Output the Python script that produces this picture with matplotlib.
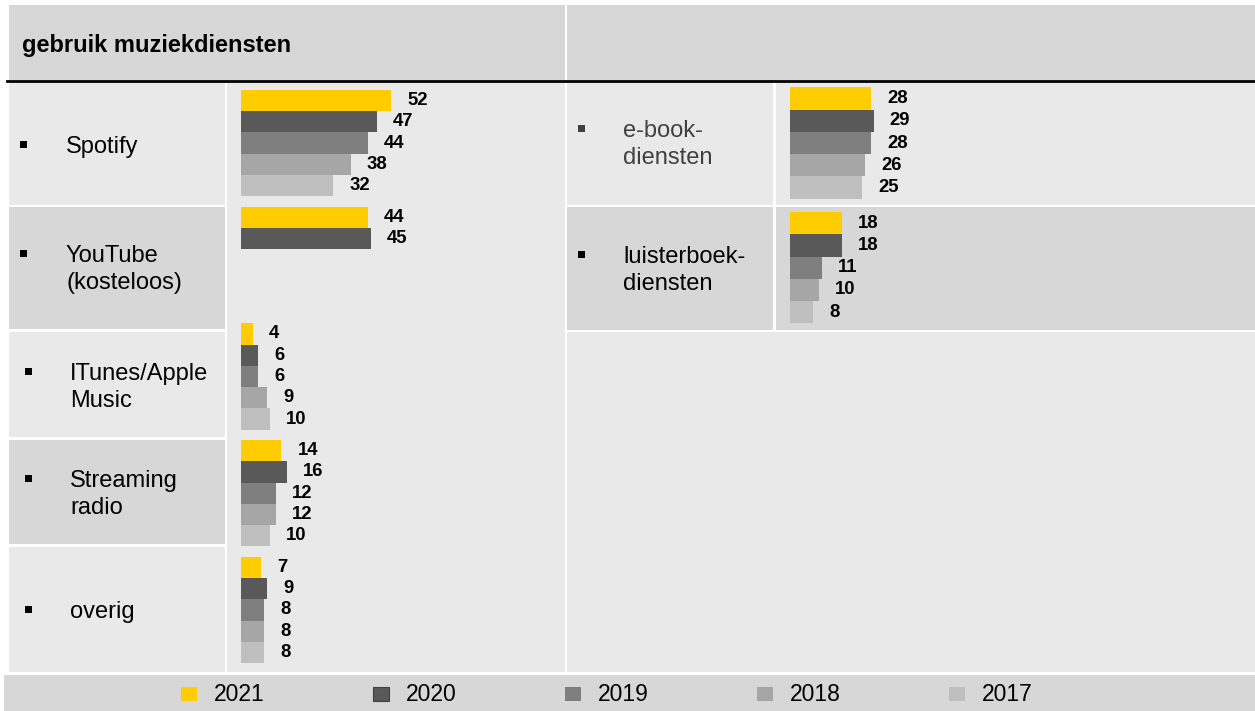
import matplotlib
matplotlib.use("Agg")
import matplotlib.pyplot as plt
from matplotlib.patches import Rectangle

plt.rcParams['font.family'] = ['Liberation Sans', 'DejaVu Sans']

# --- data ---
years = ['2021', '2020', '2019', '2018', '2017']
colors = ['#ffcc00', '#595959', '#7f7f7f', '#a6a6a6', '#bfbfbf']

music_services = ['Spotify', 'YouTube\n(kosteloos)', 'ITunes/Apple\nMusic', 'Streaming\nradio', 'overig']
music_values = [
    [52, 47, 44, 38, 32],
    [44, 45, None, None, None],
    [4, 6, 6, 9, 10],
    [14, 16, 12, 12, 10],
    [7, 9, 8, 8, 8],
]

book_services = ['e-book-\ndiensten', 'luisterboek-\ndiensten']
book_values = [
    [28, 29, 28, 26, 25],
    [18, 18, 11, 10, 8],
]

W, H = 1255, 711
LIGHT = '#e9e9e9'
DARK = '#d7d7d7'
PX_PER_UNIT = 2.89

fig = plt.figure(figsize=(W / 100, H / 100), dpi=100)
fig.patch.set_facecolor('white')

# background layer in pixel coordinates
bg = fig.add_axes([0, 0, 1, 1])
bg.set_xlim(0, W)
bg.set_ylim(H, 0)
bg.axis('off')


def cell(x0, y0, x1, y1, color):
    bg.add_patch(Rectangle((x0, y0), x1 - x0, y1 - y0, facecolor=color, edgecolor='none'))


# header
cell(9, 5, 565, 80, DARK)
cell(567, 5, W, 80, DARK)
bg.plot([7, W], [80.5, 80.5], color='black', lw=2)
bg.text(22, 52, 'gebruik muziekdiensten', fontsize=17, fontweight='bold', va='baseline')

# left label column rows
left_rows = [(82, 205), (207, 329), (332, 437), (440, 544), (547, 672)]
left_shades = [LIGHT, DARK, LIGHT, DARK, LIGHT]
for (y0, y1), c in zip(left_rows, left_shades):
    cell(9, y0, 225, y1, c)
# left chart column (one merged cell)
cell(227, 82, 565, 672, LIGHT)

# right side
cell(567, 82, 773, 205, LIGHT)
cell(776, 82, W, 205, LIGHT)
cell(567, 207, 773, 330, DARK)
cell(776, 207, W, 330, DARK)
cell(567, 332, W, 672, LIGHT)

# legend band
cell(4, 675, W, H, DARK)

# row labels with bullets
left_text_x = [66, 66, 70, 70, 70]
left_bullet_x = [23, 23, 28, 28, 28]
left_baselines = [152.7, 262.3, 380, 486.7, 618.3]
for name, tx, bx, base in zip(music_services, left_text_x, left_bullet_x, left_baselines):
    lines = name.split('\n')
    for k, line in enumerate(lines):
        bg.text(tx, base + k * 27, line, fontsize=17, va='baseline', color='black')
    bg.add_patch(Rectangle((bx - 3.5, base - 12), 7, 7, facecolor='black', edgecolor='none'))

right_baselines = [137.3, 263.3]
right_colors = ['#404040', 'black']
for name, base, tc in zip(book_services, right_baselines, right_colors):
    for k, line in enumerate(name.split('\n')):
        bg.text(623, base + k * 27, line, fontsize=17, va='baseline', color=tc)
    bg.add_patch(Rectangle((578, base - 12), 7, 7, facecolor=tc, edgecolor='none'))

# legend
for k, (yr, c) in enumerate(zip(years, colors)):
    tx = 214 + k * 192
    bg.add_patch(Rectangle((tx - 33, 687), 16, 14, facecolor=c,
                           edgecolor='#404040' if k == 1 else 'none', lw=0.8))
    bg.text(tx, 701, yr, fontsize=16.5, va='baseline')


def bar_axes(x0, y0, width, height, spacing, top_offset, n_cat):
    ax = fig.add_axes([x0 / W, 1 - (y0 + height) / H, width / W, height / H])
    ax.set_xlim(0, width / PX_PER_UNIT)
    top = -top_offset / spacing
    ax.set_ylim(top + height / spacing, top)
    ax.axis('off')
    ax.patch.set_alpha(0)
    return ax


def draw_groups(ax, values, bar_h):
    for i, group in enumerate(values):
        for j, v in enumerate(group):
            if v is None:
                continue
            y = i + (j - 2) * bar_h
            ax.barh(y, v, height=bar_h, color=colors[j], edgecolor='none')
            ax.annotate(str(v), (v, y), xytext=(11.5, 0), textcoords='offset points',
                        ha='left', va='center', fontsize=13.3, fontweight='bold')


ax_left = bar_axes(241, 82, 320, 590, 116.75, 61, len(music_services))
draw_groups(ax_left, music_values, 21.3 / 116.75)

ax_right = bar_axes(790, 82, 400, 248, 124.7, 61, len(book_services))
draw_groups(ax_right, book_values, 22.3 / 124.7)

fig.savefig('out.png', dpi=100, facecolor='white')
